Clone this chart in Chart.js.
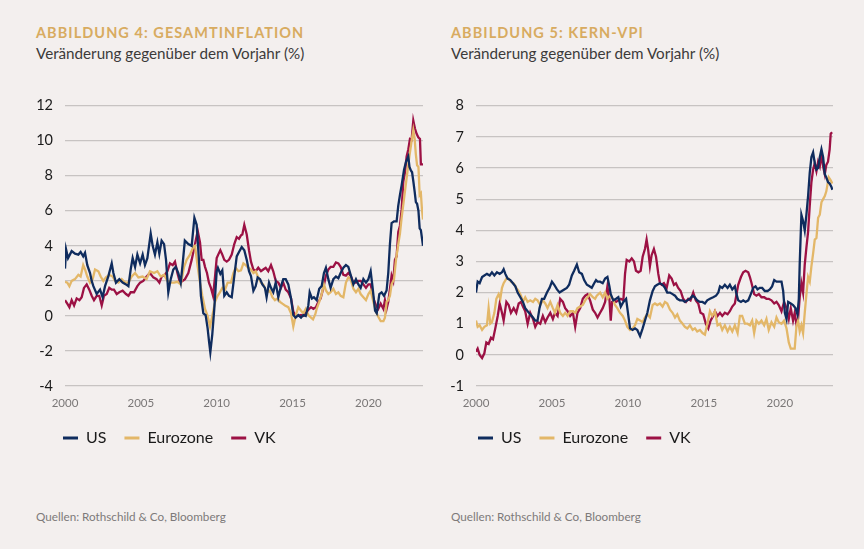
<!DOCTYPE html>
<html lang="de">
<head>
<meta charset="utf-8">
<title>Gesamtinflation und Kern-VPI</title>
<script src="https://cdn.jsdelivr.net/npm/chart.js@4.4.1/dist/chart.umd.min.js"></script>
<style>
    body {
        margin: 0;
        width: 864px;
        height: 549px;
        background: #f3efee;
        position: relative;
        overflow: hidden;
        font-family: Lato, "Noto Sans", sans-serif;
    }
    .titel {
        position: absolute;
        top: 26px;
        margin: 0;
        font-size: 14.5px;
        line-height: 1;
        font-weight: 700;
        letter-spacing: 1.05px;
        color: #d8ab60;
    }
    .untertitel {
        position: absolute;
        top: 46px;
        margin: 0;
        font-size: 15.2px;
        line-height: 1;
        color: #3c3a3a;
    }
    .quelle {
        position: absolute;
        top: 511px;
        margin: 0;
        font-size: 11.7px;
        line-height: 1;
        color: #7d7a7a;
    }
    canvas {
        position: absolute;
        top: 85px;
    }
</style>
</head>
<body>
<p class="titel" style="left:36px">ABBILDUNG 4: GESAMTINFLATION</p>
<p class="untertitel" style="left:36px">Veränderung gegenüber dem Vorjahr (%)</p>
<canvas id="grafik-gesamtinflation" width="400" height="371" style="left:30px"></canvas>
<p class="quelle" style="left:36px">Quellen: Rothschild &amp; Co, Bloomberg</p>

<p class="titel" style="left:451px">ABBILDUNG 5: KERN-VPI</p>
<p class="untertitel" style="left:451px">Veränderung gegenüber dem Vorjahr (%)</p>
<canvas id="grafik-kern-vpi" width="395" height="371" style="left:445px"></canvas>
<p class="quelle" style="left:451px">Quellen: Rothschild &amp; Co, Bloomberg</p>

<script>
const laender = ["US", "Eurozone", "VK"];
const farben = ["#0f2c5e", "#e3b768", "#9c1144"];
const jahre = [2000, 2005, 2010, 2015, 2020];
const yTicksGesamt = [-4, -2, 0, 2, 4, 6, 8, 10, 12];
const yTicksKern = [-1, 0, 1, 2, 3, 4, 5, 6, 7, 8];

// [Jahr, Veränderung in %]
const gesamtUS = [
    [2000.0, 2.7], [2000.07, 3.8], [2000.2, 3.3], [2000.44, 3.7], [2000.66, 3.55], [2000.88, 3.5],
    [2001.03, 3.65], [2001.2, 3.4], [2001.32, 3.6], [2001.47, 2.9], [2001.65, 2.45], [2001.76, 2.0],
    [2001.87, 1.7], [2002.09, 1.25], [2002.31, 1.5], [2002.48, 1.07], [2002.64, 1.7], [2002.86, 2.27],
    [2003.08, 3.0], [2003.19, 2.45], [2003.36, 1.9], [2003.58, 2.1], [2003.8, 1.9], [2004.02, 1.8],
    [2004.18, 1.7], [2004.33, 2.65], [2004.46, 3.3], [2004.62, 2.8], [2004.77, 3.5], [2004.95, 3.0],
    [2005.12, 3.5], [2005.27, 2.9], [2005.43, 3.3], [2005.65, 4.7], [2005.78, 4.0], [2005.93, 3.5],
    [2006.09, 4.2], [2006.22, 3.55], [2006.37, 4.3], [2006.53, 4.1], [2006.66, 3.2], [2006.81, 1.35],
    [2006.97, 2.1], [2007.14, 2.65], [2007.3, 2.8], [2007.47, 2.45], [2007.63, 1.9], [2007.76, 3.0],
    [2007.9, 4.3], [2008.13, 4.1], [2008.35, 4.0], [2008.53, 5.6], [2008.68, 5.2], [2008.83, 3.2],
    [2008.96, 1.15], [2009.12, 0.15], [2009.27, 0.05], [2009.4, -0.7], [2009.5, -1.5], [2009.58, -2.07],
    [2009.71, -1.05], [2009.84, 0.4], [2010.0, 2.55], [2010.08, 2.75], [2010.24, 2.4], [2010.37, 2.6],
    [2010.5, 1.15], [2010.66, 1.35], [2010.81, 1.15], [2010.99, 1.07], [2011.16, 2.27], [2011.32, 3.4],
    [2011.47, 3.65], [2011.65, 3.93], [2011.82, 3.75], [2011.98, 3.2], [2012.13, 2.55], [2012.26, 2.27],
    [2012.42, 1.44], [2012.57, 1.7], [2012.7, 2.2], [2012.86, 2.1], [2013.01, 1.8], [2013.18, 1.6],
    [2013.29, 1.07], [2013.45, 1.9], [2013.58, 1.6], [2013.73, 1.35], [2013.89, 1.9], [2014.06, 1.07],
    [2014.24, 1.7], [2014.39, 2.1], [2014.55, 2.1], [2014.72, 1.8], [2014.9, 1.0], [2015.05, 0.05],
    [2015.2, -0.1], [2015.38, 0.05], [2015.56, -0.1], [2015.71, 0.05], [2015.87, 0.0], [2016.04, 0.6],
    [2016.13, 1.35], [2016.28, 1.0], [2016.41, 1.07], [2016.59, 0.9], [2016.76, 1.55], [2016.92, 1.7],
    [2017.07, 2.45], [2017.2, 2.75], [2017.36, 2.1], [2017.51, 1.6], [2017.69, 2.1], [2017.86, 2.25],
    [2018.02, 2.15], [2018.17, 2.45], [2018.35, 2.75], [2018.52, 2.9], [2018.68, 2.8], [2018.83, 2.35],
    [2019.01, 1.8], [2019.18, 2.1], [2019.34, 1.8], [2019.49, 1.6], [2019.67, 2.1], [2019.84, 1.9],
    [2020.0, 2.1], [2020.15, 2.55], [2020.28, 1.6], [2020.44, 0.3], [2020.55, 0.15], [2020.72, 1.25],
    [2020.87, 1.35], [2021.03, 1.15], [2021.2, 1.45], [2021.31, 2.45], [2021.42, 4.1], [2021.53, 5.3],
    [2021.69, 5.4], [2021.86, 5.4], [2021.97, 6.3], [2022.08, 6.9], [2022.19, 7.45], [2022.35, 8.35],
    [2022.48, 8.8], [2022.63, 9.1], [2022.71, 8.5], [2022.8, 8.3], [2022.88, 8.2], [2022.96, 7.7],
    [2023.05, 7.1], [2023.13, 6.5], [2023.21, 6.4], [2023.3, 6.0], [2023.38, 5.0], [2023.46, 4.9],
    [2023.6, 4.0],
];

const gesamtEuro = [
    [2000.0, 1.95], [2000.15, 1.9], [2000.29, 1.7], [2000.44, 2.0], [2000.66, 2.1], [2000.88, 2.35],
    [2001.03, 2.25], [2001.2, 2.9], [2001.32, 2.65], [2001.47, 2.25], [2001.65, 1.9], [2001.82, 2.1],
    [2001.98, 2.65], [2002.2, 2.55], [2002.35, 2.25], [2002.53, 2.0], [2002.7, 2.2], [2002.92, 2.35],
    [2003.14, 2.25], [2003.3, 2.0], [2003.52, 1.9], [2003.74, 2.1], [2003.96, 1.9], [2004.18, 1.9],
    [2004.4, 2.25], [2004.62, 2.45], [2004.84, 2.2], [2005.12, 2.25], [2005.38, 2.1], [2005.6, 2.55],
    [2005.87, 2.45], [2006.09, 2.55], [2006.31, 2.25], [2006.53, 2.35], [2006.75, 2.0], [2006.97, 1.9],
    [2007.19, 1.9], [2007.41, 1.95], [2007.63, 1.8], [2007.85, 2.8], [2008.02, 3.2], [2008.24, 3.5],
    [2008.46, 3.95], [2008.57, 4.0], [2008.75, 2.8], [2008.9, 1.9], [2009.05, 1.15], [2009.23, 0.4],
    [2009.4, 0.0], [2009.56, -0.6], [2009.71, 0.0], [2009.89, 0.8], [2010.06, 1.15], [2010.22, 1.35],
    [2010.37, 1.6], [2010.55, 1.5], [2010.72, 1.9], [2010.94, 1.9], [2011.1, 2.45], [2011.25, 2.75],
    [2011.43, 2.55], [2011.6, 2.6], [2011.76, 3.0], [2011.91, 2.9], [2012.09, 2.75], [2012.26, 2.65],
    [2012.42, 2.45], [2012.57, 2.55], [2012.74, 2.2], [2012.92, 1.9], [2013.07, 1.8], [2013.29, 1.35],
    [2013.51, 1.44], [2013.67, 1.07], [2013.84, 0.9], [2014.02, 1.0], [2014.17, 0.8], [2014.33, 0.7],
    [2014.5, 0.6], [2014.72, 0.5], [2014.9, 0.15], [2015.05, -0.6], [2015.2, 0.0], [2015.38, 0.5],
    [2015.56, 0.3], [2015.71, 0.15], [2015.87, 0.4], [2016.04, 0.05], [2016.22, -0.1], [2016.35, -0.2],
    [2016.5, 0.1], [2016.59, 0.4], [2016.76, 0.8], [2016.92, 1.25], [2017.07, 1.8], [2017.2, 1.45],
    [2017.36, 1.25], [2017.51, 1.35], [2017.69, 1.55], [2017.86, 1.25], [2018.02, 1.35], [2018.17, 1.15],
    [2018.35, 1.07], [2018.52, 1.9], [2018.68, 2.2], [2018.83, 2.1], [2019.01, 1.55], [2019.18, 1.35],
    [2019.34, 1.55], [2019.49, 1.25], [2019.67, 1.07], [2019.84, 0.9], [2020.0, 1.25], [2020.15, 1.45],
    [2020.33, 0.8], [2020.5, 0.25], [2020.65, -0.05], [2020.81, -0.3], [2020.99, -0.3], [2021.09, -0.1],
    [2021.2, 0.8], [2021.31, 0.9], [2021.42, 1.15], [2021.53, 1.8], [2021.69, 2.1], [2021.82, 3.2],
    [2021.97, 4.1], [2022.08, 4.7], [2022.19, 5.6], [2022.35, 6.7], [2022.48, 7.6], [2022.57, 8.2],
    [2022.7, 9.1], [2022.85, 10.0], [2022.96, 10.6], [2023.05, 10.1], [2023.13, 9.2], [2023.21, 8.6],
    [2023.3, 8.5], [2023.38, 6.9], [2023.46, 7.0], [2023.53, 6.1], [2023.6, 5.5],
];

const gesamtVK = [
    [2000.0, 0.9], [2000.15, 0.7], [2000.29, 0.5], [2000.44, 0.9], [2000.6, 0.6], [2000.77, 1.0],
    [2000.95, 0.9], [2001.1, 1.07], [2001.25, 1.6], [2001.43, 1.8], [2001.6, 1.5], [2001.76, 1.15],
    [2001.91, 0.9], [2002.09, 1.15], [2002.26, 1.15], [2002.42, 0.6], [2002.57, 1.15], [2002.75, 1.25],
    [2002.92, 1.6], [2003.08, 1.5], [2003.23, 1.5], [2003.41, 1.25], [2003.58, 1.35], [2003.8, 1.44],
    [2004.02, 1.25], [2004.18, 1.15], [2004.33, 1.35], [2004.55, 1.35], [2004.77, 1.7], [2004.95, 1.9],
    [2005.16, 2.0], [2005.38, 2.25], [2005.6, 2.45], [2005.82, 2.2], [2006.04, 2.1], [2006.22, 1.9],
    [2006.37, 2.25], [2006.59, 2.35], [2006.75, 2.55], [2006.92, 3.0], [2007.1, 2.9], [2007.25, 3.1],
    [2007.41, 2.45], [2007.58, 1.9], [2007.76, 2.0], [2007.91, 2.1], [2008.13, 2.45], [2008.35, 3.2],
    [2008.57, 4.1], [2008.75, 4.85], [2008.9, 4.2], [2009.01, 3.2], [2009.12, 3.2], [2009.23, 2.8],
    [2009.36, 2.45], [2009.49, 1.9], [2009.62, 1.6], [2009.76, 1.15], [2009.89, 2.25], [2010.0, 3.3],
    [2010.1, 3.5], [2010.24, 3.75], [2010.37, 3.5], [2010.5, 3.2], [2010.66, 3.1], [2010.81, 3.2],
    [2010.99, 3.5], [2011.16, 4.1], [2011.32, 4.5], [2011.47, 4.4], [2011.6, 4.6], [2011.69, 4.65],
    [2011.82, 5.2], [2011.98, 4.65], [2012.13, 3.75], [2012.26, 3.1], [2012.42, 2.65], [2012.57, 2.55],
    [2012.74, 2.75], [2012.92, 2.55], [2013.07, 2.65], [2013.23, 2.75], [2013.4, 2.55], [2013.58, 2.9],
    [2013.73, 2.55], [2013.89, 2.0], [2014.06, 1.9], [2014.24, 1.6], [2014.39, 1.9], [2014.55, 1.5],
    [2014.72, 1.35], [2014.9, 1.0], [2015.05, 0.25], [2015.2, 0.0], [2015.38, 0.0], [2015.56, 0.05],
    [2015.71, 0.0], [2015.87, 0.15], [2016.04, 0.35], [2016.22, 0.5], [2016.37, 0.4], [2016.54, 0.5],
    [2016.7, 0.8], [2016.85, 1.0], [2017.03, 1.6], [2017.2, 2.3], [2017.36, 2.65], [2017.51, 2.8],
    [2017.69, 2.8], [2017.86, 3.05], [2018.02, 3.0], [2018.17, 2.8], [2018.35, 2.35], [2018.52, 2.3],
    [2018.68, 2.45], [2018.83, 2.3], [2019.01, 1.9], [2019.18, 1.9], [2019.34, 2.0], [2019.49, 2.0],
    [2019.67, 1.8], [2019.84, 1.6], [2020.0, 1.8], [2020.15, 1.8], [2020.33, 1.0], [2020.5, 0.6],
    [2020.65, 0.4], [2020.81, 0.7], [2020.99, 0.4], [2021.09, 0.9], [2021.2, 0.4], [2021.31, 0.8],
    [2021.42, 1.55], [2021.53, 2.3], [2021.64, 2.0], [2021.75, 3.2], [2021.86, 3.4], [2021.97, 4.8],
    [2022.08, 5.15], [2022.19, 6.05], [2022.3, 7.65], [2022.41, 8.2], [2022.52, 9.1], [2022.63, 9.5],
    [2022.74, 10.1], [2022.85, 10.05], [2022.96, 11.15], [2023.07, 10.7], [2023.18, 10.4], [2023.29, 10.2],
    [2023.4, 10.1], [2023.46, 8.65], [2023.6, 8.65],
];

const kernUS = [
    [2000.0, 2.0], [2000.11, 2.35], [2000.24, 2.3], [2000.4, 2.5], [2000.55, 2.55], [2000.72, 2.6],
    [2000.9, 2.55], [2001.05, 2.65], [2001.21, 2.55], [2001.38, 2.65], [2001.56, 2.6], [2001.71, 2.65],
    [2001.82, 2.75], [2001.93, 2.6], [2002.08, 2.45], [2002.26, 2.4], [2002.43, 2.3], [2002.59, 2.2],
    [2002.74, 2.0], [2002.92, 1.85], [2003.09, 1.7], [2003.24, 1.5], [2003.4, 1.4], [2003.57, 1.3],
    [2003.75, 1.2], [2003.9, 1.1], [2004.05, 1.1], [2004.18, 1.5], [2004.34, 1.8], [2004.49, 1.8],
    [2004.67, 2.0], [2004.84, 2.15], [2005.0, 2.35], [2005.15, 2.25], [2005.33, 2.1], [2005.5, 2.0],
    [2005.65, 2.05], [2005.81, 2.1], [2005.98, 2.15], [2006.13, 2.25], [2006.31, 2.55], [2006.46, 2.7],
    [2006.64, 2.9], [2006.79, 2.65], [2006.97, 2.6], [2007.12, 2.4], [2007.3, 2.25], [2007.47, 2.2],
    [2007.62, 2.15], [2007.78, 2.3], [2007.9, 2.4], [2008.0, 2.35], [2008.17, 2.35], [2008.34, 2.3],
    [2008.5, 2.45], [2008.65, 2.5], [2008.78, 2.2], [2008.87, 1.95], [2009.04, 1.75], [2009.22, 1.8],
    [2009.37, 1.85], [2009.53, 1.55], [2009.7, 1.7], [2009.88, 1.8], [2010.03, 1.25], [2010.14, 0.85],
    [2010.31, 0.8], [2010.47, 0.85], [2010.62, 0.8], [2010.8, 0.6], [2010.97, 0.85], [2011.12, 1.1],
    [2011.28, 1.35], [2011.45, 1.75], [2011.63, 2.05], [2011.78, 2.2], [2011.93, 2.25], [2012.11, 2.3],
    [2012.28, 2.25], [2012.44, 2.15], [2012.59, 2.0], [2012.77, 2.0], [2012.94, 1.95], [2013.1, 1.9],
    [2013.25, 1.8], [2013.42, 1.75], [2013.6, 1.75], [2013.75, 1.7], [2013.91, 1.75], [2014.08, 1.8],
    [2014.26, 1.9], [2014.41, 1.85], [2014.56, 1.75], [2014.74, 1.7], [2014.91, 1.7], [2015.07, 1.65],
    [2015.22, 1.75], [2015.4, 1.8], [2015.61, 1.85], [2015.8, 1.9], [2015.95, 2.0], [2016.06, 2.2],
    [2016.21, 2.15], [2016.38, 2.25], [2016.56, 2.15], [2016.71, 2.25], [2016.87, 2.1], [2017.04, 2.2],
    [2017.15, 1.95], [2017.26, 1.75], [2017.44, 1.7], [2017.59, 1.75], [2017.74, 1.7], [2017.92, 1.75],
    [2018.09, 1.95], [2018.25, 2.15], [2018.4, 2.2], [2018.53, 2.1], [2018.68, 2.15], [2018.84, 2.15],
    [2019.01, 2.05], [2019.19, 2.05], [2019.34, 2.1], [2019.49, 2.2], [2019.63, 2.4], [2019.78, 2.35],
    [2019.93, 2.35], [2020.11, 2.35], [2020.22, 2.05], [2020.33, 1.35], [2020.44, 1.15], [2020.55, 1.7],
    [2020.72, 1.65], [2020.87, 1.6], [2021.03, 1.5], [2021.16, 1.3], [2021.25, 1.8], [2021.31, 2.95],
    [2021.42, 4.5], [2021.53, 4.3], [2021.64, 4.0], [2021.75, 4.5], [2021.86, 5.1], [2021.97, 5.85],
    [2022.08, 6.35], [2022.19, 6.5], [2022.3, 6.15], [2022.41, 5.95], [2022.52, 6.0], [2022.63, 6.35],
    [2022.74, 6.6], [2022.85, 6.35], [2022.96, 5.8], [2023.06, 5.7], [2023.17, 5.55], [2023.28, 5.5],
    [2023.39, 5.4], [2023.46, 5.3],
];

const kernEuro = [
    [2000.0, 1.1], [2000.11, 0.9], [2000.24, 0.95], [2000.4, 0.8], [2000.55, 0.9], [2000.72, 0.95],
    [2000.83, 1.5], [2000.94, 1.0], [2001.05, 1.05], [2001.21, 1.35], [2001.34, 1.8], [2001.49, 1.95],
    [2001.6, 1.8], [2001.71, 2.15], [2001.82, 2.3], [2002.0, 2.45], [2002.15, 2.45], [2002.3, 2.35],
    [2002.48, 2.3], [2002.65, 2.15], [2002.81, 2.05], [2002.96, 1.9], [2003.09, 1.7], [2003.24, 1.85],
    [2003.4, 1.7], [2003.57, 1.75], [2003.75, 1.7], [2003.9, 1.8], [2004.05, 1.75], [2004.23, 1.6],
    [2004.4, 1.75], [2004.56, 1.65], [2004.71, 1.5], [2004.89, 1.7], [2005.06, 1.5], [2005.2, 1.35],
    [2005.37, 1.6], [2005.54, 1.35], [2005.72, 1.25], [2005.87, 1.35], [2006.03, 1.25], [2006.2, 1.4],
    [2006.38, 1.4], [2006.53, 1.35], [2006.68, 1.5], [2006.86, 1.55], [2007.03, 1.6], [2007.19, 1.75],
    [2007.34, 1.85], [2007.51, 1.95], [2007.69, 1.85], [2007.84, 1.8], [2007.95, 1.9], [2008.17, 2.0],
    [2008.34, 1.85], [2008.5, 2.0], [2008.65, 1.8], [2008.82, 1.9], [2009.0, 1.8], [2009.15, 1.6],
    [2009.3, 1.5], [2009.48, 1.35], [2009.66, 1.25], [2009.81, 1.1], [2009.96, 0.9], [2010.14, 0.8],
    [2010.31, 0.85], [2010.47, 0.95], [2010.62, 1.15], [2010.8, 1.1], [2010.97, 1.05], [2011.12, 1.2],
    [2011.28, 1.3], [2011.45, 1.2], [2011.63, 1.6], [2011.78, 1.65], [2011.93, 1.6], [2012.11, 1.65],
    [2012.28, 1.55], [2012.44, 1.7], [2012.59, 1.65], [2012.77, 1.45], [2012.94, 1.35], [2013.1, 1.2],
    [2013.25, 1.3], [2013.42, 1.1], [2013.6, 1.0], [2013.75, 0.9], [2013.91, 0.85], [2014.08, 0.95],
    [2014.26, 0.8], [2014.41, 0.85], [2014.56, 0.75], [2014.74, 0.8], [2014.91, 0.7], [2015.07, 0.65],
    [2015.25, 1.05], [2015.4, 1.4], [2015.55, 1.25], [2015.73, 1.4], [2015.9, 0.95], [2016.06, 1.0],
    [2016.21, 0.8], [2016.38, 0.95], [2016.56, 0.75], [2016.71, 0.9], [2016.87, 0.75], [2017.04, 0.95],
    [2017.22, 0.7], [2017.37, 1.25], [2017.52, 1.25], [2017.7, 1.0], [2017.87, 1.0], [2018.03, 0.95],
    [2018.18, 1.1], [2018.31, 0.7], [2018.46, 1.1], [2018.62, 1.0], [2018.79, 1.1], [2018.97, 0.95],
    [2019.12, 1.15], [2019.27, 0.8], [2019.45, 1.05], [2019.63, 0.9], [2019.78, 1.2], [2019.93, 1.05],
    [2020.11, 1.0], [2020.28, 1.1], [2020.44, 0.85], [2020.59, 0.4], [2020.72, 0.2], [2020.87, 0.2],
    [2020.98, 0.2], [2021.09, 0.9], [2021.2, 1.1], [2021.31, 0.75], [2021.42, 0.95], [2021.53, 0.7],
    [2021.64, 1.35], [2021.75, 1.95], [2021.86, 2.5], [2021.97, 2.35], [2022.08, 2.85], [2022.19, 3.25],
    [2022.3, 3.7], [2022.41, 3.75], [2022.52, 4.4], [2022.63, 4.5], [2022.74, 4.9], [2022.85, 5.0],
    [2022.96, 5.1], [2023.06, 5.25], [2023.22, 5.7], [2023.35, 5.6], [2023.46, 5.5],
];

const kernVK = [
    [2000.0, 0.1], [2000.11, 0.2], [2000.24, 0.0], [2000.4, -0.1], [2000.55, 0.05], [2000.68, 0.4],
    [2000.83, 0.35], [2000.99, 0.55], [2001.12, 0.5], [2001.27, 0.85], [2001.43, 1.25], [2001.56, 1.65],
    [2001.71, 1.35], [2001.82, 1.1], [2002.0, 1.7], [2002.15, 1.6], [2002.3, 1.35], [2002.48, 1.5],
    [2002.65, 1.35], [2002.81, 1.65], [2002.96, 1.7], [2003.09, 1.55], [2003.24, 1.4], [2003.4, 1.0],
    [2003.57, 1.35], [2003.75, 1.15], [2003.9, 0.9], [2004.05, 1.05], [2004.23, 1.0], [2004.4, 1.25],
    [2004.56, 1.05], [2004.71, 1.2], [2004.89, 1.35], [2005.06, 1.15], [2005.2, 1.35], [2005.37, 1.25],
    [2005.54, 1.8], [2005.72, 1.7], [2005.87, 1.5], [2006.03, 1.4], [2006.2, 1.25], [2006.38, 1.35],
    [2006.53, 0.9], [2006.68, 1.35], [2006.86, 1.5], [2007.03, 1.8], [2007.19, 1.9], [2007.34, 1.95],
    [2007.51, 1.75], [2007.69, 1.45], [2007.84, 1.35], [2008.0, 1.2], [2008.17, 1.35], [2008.34, 1.5],
    [2008.5, 1.7], [2008.65, 2.2], [2008.78, 1.8], [2008.87, 1.1], [2008.96, 1.7], [2009.09, 1.75],
    [2009.22, 1.7], [2009.37, 1.75], [2009.53, 1.8], [2009.7, 1.75], [2009.81, 2.6], [2009.92, 3.05],
    [2010.09, 3.0], [2010.25, 3.1], [2010.4, 3.0], [2010.53, 2.7], [2010.69, 2.65], [2010.84, 2.7],
    [2010.97, 3.15], [2011.12, 3.4], [2011.23, 3.7], [2011.34, 3.35], [2011.45, 2.85], [2011.56, 3.2],
    [2011.71, 3.4], [2011.85, 3.15], [2012.0, 2.6], [2012.11, 2.3], [2012.22, 2.25], [2012.37, 2.3],
    [2012.55, 2.15], [2012.72, 2.55], [2012.88, 2.45], [2013.03, 2.25], [2013.16, 2.3], [2013.31, 2.15],
    [2013.47, 2.05], [2013.64, 1.8], [2013.82, 1.7], [2013.97, 1.8], [2014.12, 1.75], [2014.3, 2.0],
    [2014.47, 1.75], [2014.63, 1.65], [2014.78, 1.35], [2014.96, 1.3], [2015.13, 1.0], [2015.29, 0.85],
    [2015.44, 1.1], [2015.61, 1.25], [2015.73, 1.4], [2015.9, 1.25], [2016.06, 1.35], [2016.21, 1.25],
    [2016.38, 1.35], [2016.56, 1.3], [2016.71, 1.4], [2016.87, 1.55], [2017.04, 1.65], [2017.15, 1.95],
    [2017.26, 2.25], [2017.44, 2.5], [2017.59, 2.65], [2017.74, 2.7], [2017.92, 2.65], [2018.03, 2.5],
    [2018.14, 2.3], [2018.31, 1.95], [2018.46, 1.9], [2018.62, 1.95], [2018.79, 1.85], [2018.97, 1.85],
    [2019.12, 1.8], [2019.27, 1.8], [2019.45, 1.75], [2019.63, 1.65], [2019.78, 1.7], [2019.93, 1.6],
    [2020.11, 1.4], [2020.28, 1.7], [2020.44, 1.5], [2020.59, 1.15], [2020.72, 1.5], [2020.87, 1.1],
    [2020.98, 1.35], [2021.09, 1.0], [2021.2, 1.15], [2021.31, 1.85], [2021.42, 2.3], [2021.53, 2.0],
    [2021.64, 2.9], [2021.75, 3.45], [2021.86, 3.95], [2021.97, 4.8], [2022.08, 5.55], [2022.19, 5.95],
    [2022.3, 6.15], [2022.41, 5.9], [2022.52, 6.2], [2022.63, 6.05], [2022.74, 6.45], [2022.85, 6.05],
    [2022.96, 5.8], [2023.06, 6.1], [2023.17, 6.2], [2023.28, 6.6], [2023.35, 7.1], [2023.44, 7.15],
];

Chart.defaults.font.family = "Lato, 'Noto Sans', sans-serif";
Chart.defaults.color = "#1e1e1e";

const legendeOhneRand = (chart) =>
    Chart.defaults.plugins.legend.labels
        .generateLabels(chart)
        .map((item) => ({ ...item, lineWidth: 0 }));

// Legende beginnt etwas links von der Zeichenfläche, nicht am Rand des Canvas
const legendeEinruecken = (abstand) => ({
    id: "legendeEinruecken",
    afterLayout(chart) {
        chart.legend.left += abstand;
    },
});

function grafikOptionen(serien, yTicks, xMax, yBreite, einzug) {
    return {
        type: "line",
        data: {
            datasets: serien.map((serie, i) => ({
                label: laender[i],
                data: serie.map(([x, y]) => ({ x, y })),
                borderColor: farben[i],
                backgroundColor: farben[i],
                borderWidth: 2.3,
                pointRadius: 0,
                tension: 0,
            })),
        },
        options: {
            responsive: false,
            animation: false,
            layout: { padding: { top: 12, left: 0, right: 7, bottom: 0 } },
            scales: {
                x: {
                    type: "linear",
                    min: 2000,
                    max: xMax,
                    grid: { display: false, drawTicks: false },
                    border: { display: false },
                    afterBuildTicks: (skala) => {
                        skala.ticks = jahre.map((v) => ({ value: v }));
                    },
                    afterFit: (skala) => {
                        skala.height = 26;
                    },
                    ticks: {
                        padding: 10,
                        color: "#7a7777",
                        font: { size: 11.5 },
                        maxRotation: 0,
                        callback: (v) => String(v),
                    },
                },
                y: {
                    min: yTicks[0],
                    max: yTicks[yTicks.length - 1],
                    grid: { color: "#c7c3c2", lineWidth: 1.2, drawTicks: false },
                    border: { display: false },
                    afterBuildTicks: (skala) => {
                        skala.ticks = yTicks.map((v) => ({ value: v }));
                    },
                    afterFit: (skala) => {
                        skala.width = yBreite;
                    },
                    ticks: {
                        padding: 12,
                        color: "#1a1a1a",
                        font: { size: 14.5 },
                        callback: (v) => String(v),
                    },
                },
            },
            plugins: {
                tooltip: { enabled: false },
                legend: {
                    position: "bottom",
                    align: "start",
                    labels: {
                        boxWidth: 15,
                        boxHeight: 3,
                        padding: 18,
                        color: "#1a1a1a",
                        font: { size: 16 },
                        generateLabels: legendeOhneRand,
                    },
                },
            },
        },
        plugins: [legendeEinruecken(einzug)],
    };
}

new Chart(
    document.getElementById("grafik-gesamtinflation"),
    grafikOptionen([gesamtUS, gesamtEuro, gesamtVK], yTicksGesamt, 2023.6, 35, 15)
);

new Chart(
    document.getElementById("grafik-kern-vpi"),
    grafikOptionen([kernUS, kernEuro, kernVK], yTicksKern, 2023.5, 31, 15)
);
</script>
</body>
</html>
